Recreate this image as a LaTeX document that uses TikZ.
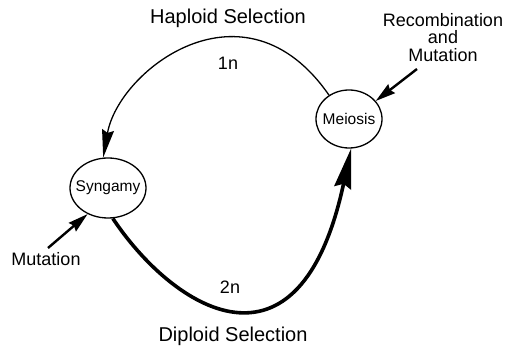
\documentclass[tikz,border=0pt]{standalone}
\usepackage{fontspec}
\setmainfont{Liberation Sans}
\usetikzlibrary{arrows.meta,shapes.geometric}
\begin{document}
\begin{tikzpicture}[x=1pt,y=1pt,
  stage/.style={draw,line width=1.3pt,ellipse,minimum width=66pt,minimum height=58pt,inner xsep=-7pt,inner ysep=0pt,font=\fontsize{15.5}{17}\selectfont},
  biglbl/.style={font=\fontsize{20}{22}\selectfont,align=center},
  lbl/.style={font=\fontsize{18}{17.5}\selectfont,align=center},
  thin arc/.style={line width=1.3pt,-{Stealth[length=28pt,width=12pt,inset=3pt]}},
  thick arc/.style={line width=3.6pt,-{Stealth[length=40pt,width=17pt,inset=4pt]}},
  input/.style={line width=2.4pt,-{Stealth[length=20pt,width=11pt,inset=2pt]}}]
\useasboundingbox (0,0) rectangle (508,350);
\node[stage] (mei) at (349,231) {Meiosis};
\node[stage,minimum width=76pt,minimum height=60pt] (syn) at (108,162) {Syngamy};
\node[biglbl] (hap) at (228,331.5) {Haploid Selection};
\node[biglbl] (dip) at (233,14) {Diploid Selection};
\node[lbl] (one) at (228,286.5) {1n};
\node[lbl] (two) at (230,62.5) {2n};
\node[lbl] (rec) at (443,312.5) {Recombination\\and\\Mutation};
\node[lbl] (mut) at (46,90.5) {Mutation};
\coordinate (recs) at (417,281);
\coordinate (muts) at (48,102);
\draw[thin arc] (mei.130) .. controls (244.5,376.9) and (118.6,280.2) .. (syn.99);
\draw[thick arc] (syn.-81) .. controls (172.6,41.6) and (299.4,-40.5) .. (mei.-86);
\draw[input] (recs) -- (mei.34);
\draw[input] (muts) -- (syn.232);
\end{tikzpicture}
\end{document}
